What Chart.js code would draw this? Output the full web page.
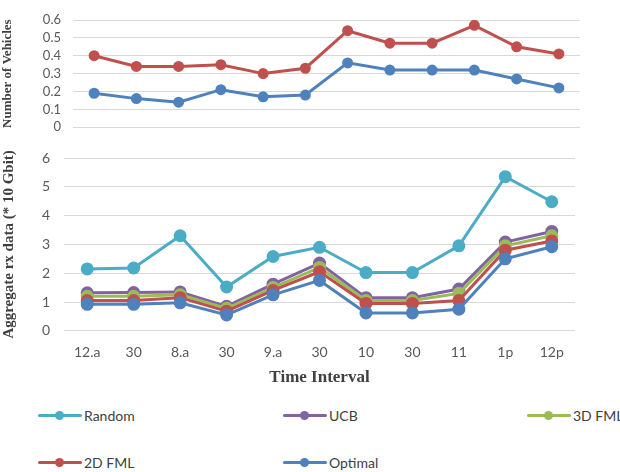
<!DOCTYPE html>
<html>
<head>
<meta charset="utf-8">
<script src="https://cdn.jsdelivr.net/npm/chart.js@4"></script>
<style>
  body { margin: 0; background: #fff; }
  #wrap { position: relative; width: 620px; height: 472px; overflow: hidden; }
  #topBox { position: absolute; left: 0; top: 0; width: 620px; height: 147px; }
  #botBox { position: absolute; left: 0; top: 135px; width: 620px; height: 255px; }
  .leg { position: absolute; font: 14px Lato, sans-serif; color: #404040; display: flex; align-items: center; white-space: nowrap; }
  .sym { position: relative; width: 44px; height: 9px; margin-right: 2px; flex: none; }
  .sym .ln { position: absolute; left: 0; right: 0; top: 3px; height: 3px; border-radius: 2px; }
  .sym .dt { position: absolute; left: 17px; top: 0; width: 9px; height: 9px; border-radius: 50%; }
</style>
</head>
<body>
<div id="wrap">
  <div id="topBox"><canvas id="topChart" width="620" height="147"></canvas></div>
  <div id="botBox"><canvas id="botChart" width="620" height="255"></canvas></div>
  <div id="legend"></div>
</div>
<script>
// ===========================
// Data
// ===========================
const TOP_LABELS = ['', '', '', '', '', '', '', '', '', '', '', ''];
const TOP_RED = [0.40, 0.34, 0.34, 0.35, 0.30, 0.33, 0.54, 0.47, 0.47, 0.57, 0.45, 0.41];
const TOP_BLUE = [0.19, 0.16, 0.14, 0.21, 0.17, 0.18, 0.36, 0.32, 0.32, 0.32, 0.27, 0.22];

const TIME_LABELS = ['12.a', '30', '8.a', '30', '9.a', '30', '10', '30', '11', '1p', '12p'];
const RANDOM = [2.15, 2.18, 3.30, 1.52, 2.58, 2.90, 2.02, 2.02, 2.95, 5.35, 4.48];
const UCB = [1.32, 1.33, 1.35, 0.85, 1.62, 2.35, 1.15, 1.15, 1.45, 3.08, 3.45];
const FML_3D = [1.20, 1.20, 1.25, 0.78, 1.50, 2.20, 1.05, 1.05, 1.30, 2.95, 3.30];
const FML_2D = [1.05, 1.05, 1.15, 0.68, 1.40, 2.05, 0.95, 0.95, 1.05, 2.80, 3.12];
const OPTIMAL = [0.92, 0.92, 0.97, 0.55, 1.25, 1.75, 0.62, 0.62, 0.75, 2.50, 2.92];

const C_CYAN = '#4BACC6';
const C_PURPLE = '#8064A2';
const C_GREEN = '#9BBB59';
const C_RED = '#C0504D';
const C_BLUE = '#4F81BD';

const TICK_COLOR = '#595959';
const GRID_COLOR = '#d9d9d9';
const TITLE_FONT = "'Liberation Serif', 'Times New Roman', serif";

Chart.defaults.animation = false;
Chart.defaults.font.family = 'Lato, sans-serif';

function ds(label, data, color, r) {
  return {
    label, data,
    borderColor: color, backgroundColor: color,
    pointBackgroundColor: color, pointBorderColor: color,
    borderWidth: 3, pointRadius: r, tension: 0
  };
}

// ===========================
// Top chart: Number of Vehicles
// ===========================
new Chart(document.getElementById('topChart'), {
  type: 'line',
  data: {
    labels: TOP_LABELS,
    datasets: [ds('2D', TOP_RED, C_RED, 4), ds('Opt', TOP_BLUE, C_BLUE, 4)]
  },
  options: {
    responsive: false,
    layout: { padding: { top: 20, right: 40, bottom: 6, left: 0 } },
    plugins: { legend: { display: false }, tooltip: { enabled: false } },
    scales: {
      x: { display: false, offset: true },
      y: {
        min: 0, max: 0.6,
        ticks: { stepSize: 0.1, autoSkip: false, color: TICK_COLOR, font: { size: 13 }, padding: 12 },
        grid: { color: GRID_COLOR, drawTicks: false },
        border: { display: false },
        title: {
          display: true, text: 'Number of Vehicles', color: '#404040',
          font: { family: TITLE_FONT, size: 13, weight: 'bold' }, padding: { top: 0, bottom: 0 }
        },
        afterFit: s => { s.width = 73; }
      }
    }
  }
});

// ===========================
// Bottom chart: Aggregate rx data
// ===========================
const BOT_SETS = [
  ds('Random', RANDOM, C_CYAN, 5),
  ds('Optimal', OPTIMAL, C_BLUE, 5),
  ds('2D FML', FML_2D, C_RED, 5),
  ds('3D FML', FML_3D, C_GREEN, 5),
  ds('UCB', UCB, C_PURPLE, 5)
];

new Chart(document.getElementById('botChart'), {
  type: 'line',
  data: { labels: TIME_LABELS, datasets: BOT_SETS },
  options: {
    responsive: false,
    layout: { padding: { top: 23, right: 45, bottom: 2, left: 0 } },
    plugins: { legend: { display: false }, tooltip: { enabled: false } },
    scales: {
      x: {
        offset: true,
        ticks: { color: TICK_COLOR, font: { size: 14 }, padding: 5, maxRotation: 0 },
        grid: { display: false },
        border: { display: false },
        title: {
          display: true, text: 'Time Interval', color: '#404040',
          font: { family: TITLE_FONT, size: 17, weight: 'bold' }, padding: { top: 2, bottom: 0 }
        }
      },
      y: {
        min: 0, max: 6,
        ticks: { stepSize: 1, color: TICK_COLOR, font: { size: 14 }, padding: 14 },
        grid: { color: GRID_COLOR, drawTicks: false },
        border: { display: false },
        title: {
          display: true, text: 'Aggregate rx data (* 10 Gbit)', color: '#404040',
          font: { family: TITLE_FONT, size: 15, weight: 'bold' }, padding: { top: 0, bottom: 0 }
        },
        afterFit: s => { s.width = 64; }
      }
    }
  }
});

// ===========================
// Legend
// ===========================
const LEGEND = [
  { label: 'Random', color: C_CYAN, x: 38, y: 415 },
  { label: 'UCB', color: C_PURPLE, x: 283, y: 415 },
  { label: '3D FML', color: C_GREEN, x: 527, y: 415 },
  { label: '2D FML', color: C_RED, x: 38, y: 462 },
  { label: 'Optimal', color: C_BLUE, x: 283, y: 462 }
];
const legendEl = document.getElementById('legend');
LEGEND.forEach(it => {
  const d = document.createElement('div');
  d.className = 'leg';
  d.style.left = it.x + 'px';
  d.style.top = (it.y - 10) + 'px';
  d.style.height = '20px';
  d.innerHTML = `<span class="sym"><span class="ln" style="background:${it.color}"></span><span class="dt" style="background:${it.color}"></span></span>${it.label}`;
  legendEl.appendChild(d);
});
</script>
</body>
</html>
